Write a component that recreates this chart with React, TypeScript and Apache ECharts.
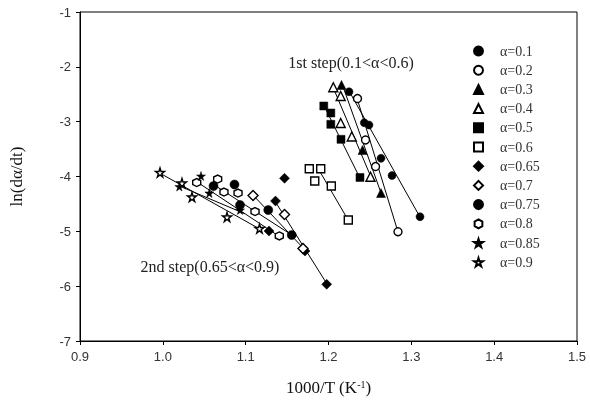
import React, { useEffect, useRef } from "react";
import * as echarts from "echarts";

const seriesNames = ["α=0.1", "α=0.2", "α=0.3", "α=0.4", "α=0.5", "α=0.6", "α=0.65", "α=0.7", "α=0.75", "α=0.8", "α=0.85", "α=0.9"];

const alpha01 = [[1.2248, -2.454], [1.2432, -3.019], [1.2489, -3.061], [1.2634, -3.668], [1.2767, -3.982], [1.3105, -4.733]];
const alpha02 = [[1.235, -2.578], [1.2447, -3.334], [1.2568, -3.818], [1.2839, -5.007]];
const alpha03 = [[1.2157, -2.331], [1.2411, -3.517], [1.2634, -4.301]];
const alpha04 = [[1.2058, -2.373], [1.2147, -2.532], [1.2147, -3.024], [1.2281, -3.271], [1.2507, -4.004]];
const alpha05 = [[1.1943, -2.714], [1.2028, -2.842], [1.2028, -3.048], [1.2151, -3.322], [1.238, -4.018]];
const alpha06 = [[1.1768, -3.858], [1.1906, -3.858], [1.1834, -4.082], [1.2034, -4.173], [1.2239, -4.794]];
const alpha065 = [[1.1469, -4.033], [1.136, -4.447], [1.1282, -4.994], [1.1716, -5.359], [1.1978, -5.966]];
const alpha07 = [[1.1089, -4.347], [1.1469, -4.693], [1.1692, -5.313]];
const alpha075 = [[1.0612, -4.173], [1.0865, -4.146], [1.0932, -4.52], [1.1273, -4.611], [1.1556, -5.067]];
const alpha08 = [[1.0409, -4.11], [1.0662, -4.046], [1.0738, -4.283], [1.0908, -4.301], [1.1113, -4.639], [1.1406, -5.085]];
const alpha085 = [[1.0199, -4.183], [1.0461, -3.991], [1.0561, -4.301], [1.0932, -4.611]];
const alpha09 = [[0.9966, -3.927], [1.0231, -4.119], [1.0352, -4.374], [1.0775, -4.739], [1.1167, -4.949]];

// fitted lines, endpoints
const fit01 = [[1.2248, -2.44], [1.3105, -4.74]];
const fit02 = [[1.2344, -2.57], [1.2839, -5.01]];
const fit03 = [[1.2163, -2.31], [1.2634, -4.3]];
const fit04 = [[1.2054, -2.37], [1.2513, -4.01]];
const fit05 = [[1.1946, -2.71], [1.238, -4.03]];
const fit06 = [[1.1873, -3.85], [1.2236, -4.79]];
const fit065 = [[1.1354, -4.45], [1.1982, -5.96]];
const fit07 = [[1.1089, -4.34], [1.1692, -5.3]];
const fit075 = [[1.0606, -4.14], [1.156, -5.07]];
const fit08 = [[1.0413, -4.1], [1.1403, -5.09]];
const fit085 = [[1.0195, -4.17], [1.0992, -4.68]];
const fit09 = [[0.9942, -3.92], [1.1173, -4.96]];

const seriesData = [alpha01, alpha02, alpha03, alpha04, alpha05, alpha06, alpha065, alpha07, alpha075, alpha08, alpha085, alpha09];
const fitData = [fit01, fit02, fit03, fit04, fit05, fit06, fit065, fit07, fit075, fit08, fit085, fit09];

const STAR = "path://M50,0 L61,35 L98,35 L68,57 L79,91 L50,70 L21,91 L32,57 L2,35 L39,35 Z";
const HEX = "path://M50,0 L93,25 L93,75 L50,100 L7,75 L7,25 Z";

const markerStyles = [
  { symbol: "circle", size: 8, filled: true },
  { symbol: "circle", size: 8, filled: false },
  { symbol: "triangle", size: 9, filled: true },
  { symbol: "triangle", size: 9, filled: false },
  { symbol: "rect", size: 8, filled: true },
  { symbol: "rect", size: 8, filled: false },
  { symbol: "diamond", size: 10, filled: true },
  { symbol: "diamond", size: 10, filled: false },
  { symbol: "circle", size: 9, filled: true },
  { symbol: HEX, size: 8, filled: false },
  { symbol: STAR, size: 9, filled: true },
  { symbol: STAR, size: 9, filled: false },
];

const serif = "'Liberation Serif', 'Times New Roman', serif";
const sans = "'Liberation Sans', Arial, sans-serif";

export default function App() {
  const ref = useRef<HTMLDivElement>(null);
  useEffect(() => {
    if (!ref.current) return;
    const chart = echarts.init(ref.current, null, { renderer: "svg" });
    const lineSeries = fitData.map((d, i) => ({
      name: "fit" + i,
      type: "line",
      data: d,
      symbol: "none",
      lineStyle: { color: "#000", width: 1 },
      z: 2,
      silent: true,
    }));
    const scatterSeries = seriesData.map((d, i) => {
      const m = markerStyles[i];
      return {
        name: seriesNames[i],
        type: "scatter",
        data: d,
        symbol: m.symbol,
        symbolSize: m.size,
        itemStyle: m.filled
          ? { color: "#000", borderColor: "#000", borderWidth: 0.5, opacity: 1 }
          : { color: "#fff", borderColor: "#000", borderWidth: 1.4, opacity: 1 },
        z: 3,
      };
    });
    chart.setOption({
      animation: false,
      grid: { left: 80, right: 13, top: 12, bottom: 66, show: true, borderColor: "#000", borderWidth: 1, backgroundColor: "transparent" },
      xAxis: {
        type: "value",
        min: 0.9,
        max: 1.5,
        interval: 0.1,
        name: "1000/T (K{s|-1})",
        nameLocation: "middle",
        nameGap: 38,
        nameTextStyle: {
          fontFamily: serif,
          fontSize: 17,
          color: "#111",
          rich: { s: { fontFamily: serif, fontSize: 10, verticalAlign: "top", color: "#111" } },
        },
        axisLine: { show: true, lineStyle: { color: "#000", width: 1 } },
        axisTick: { show: true, inside: false, length: 4, lineStyle: { color: "#000" } },
        axisLabel: { fontFamily: sans, fontSize: 13, color: "#333", margin: 9, formatter: (v: number) => v.toFixed(1) },
        splitLine: { show: false },
      },
      yAxis: {
        type: "value",
        min: -7,
        max: -1,
        interval: 1,
        name: "ln(dα/dt)",
        nameLocation: "middle",
        nameGap: 55,
        nameTextStyle: { fontFamily: serif, fontSize: 17, color: "#111" },
        axisLine: { show: true, lineStyle: { color: "#000", width: 1 } },
        axisTick: { show: true, inside: false, length: 4, lineStyle: { color: "#000" } },
        axisLabel: { fontFamily: sans, fontSize: 13, color: "#333", margin: 9 },
        splitLine: { show: false },
      },
      legend: {
        data: seriesNames,
        orient: "vertical",
        left: 468,
        top: 39,
        itemWidth: 9,
        itemHeight: 9,
        itemGap: 5.2,
        textStyle: { fontFamily: serif, fontSize: 14, color: "#333", lineHeight: 12, padding: [0, 0, 0, 12] },
      },
      graphic: [
        {
          type: "text",
          x: 351,
          y: 62,
          style: { text: "1st step(0.1<α<0.6)", fontFamily: serif, fontSize: 16, fill: "#222", align: "center", verticalAlign: "middle" },
        },
        {
          type: "text",
          x: 210,
          y: 266,
          style: { text: "2nd step(0.65<α<0.9)", fontFamily: serif, fontSize: 16, fill: "#222", align: "center", verticalAlign: "middle" },
        },
      ],
      series: [...lineSeries, ...scatterSeries],
    });
    return () => chart.dispose();
  }, []);
  return <div ref={ref} style={{ width: 590, height: 407, position: "fixed", left: 0, top: 0 }} />;
}
